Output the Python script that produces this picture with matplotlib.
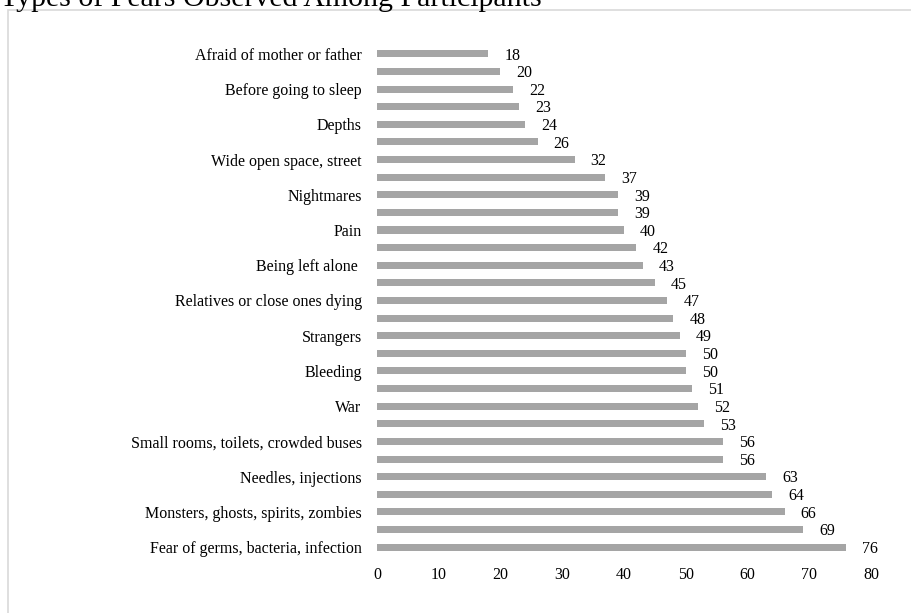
import matplotlib.pyplot as plt
from matplotlib.patches import Rectangle

# fears, top to bottom; only every other category is labelled on the axis
labels = [
    "Afraid of mother or father", "",
    "Before going to sleep", "",
    "Depths", "",
    "Wide open space, street", "",
    "Nightmares", "",
    "Pain", "",
    "Being left alone ", "",
    "Relatives or close ones dying", "",
    "Strangers", "",
    "Bleeding", "",
    "War", "",
    "Small rooms, toilets, crowded buses", "",
    "Needles, injections", "",
    "Monsters, ghosts, spirits, zombies", "",
    "Fear of germs, bacteria, infection",
]
counts = [18, 20, 22, 23, 24, 26, 32, 37, 39, 39, 40, 42, 43, 45, 47,
          48, 49, 50, 50, 51, 52, 53, 56, 56, 63, 64, 66, 69, 76]
xticks = [0, 10, 20, 30, 40, 50, 60, 70, 80]

plt.rcParams['font.family'] = ['Liberation Serif', 'DejaVu Serif']

fig = plt.figure(figsize=(9.11, 6.13), dpi=100)

# outer frame, only top and left edges fall inside the image
fig.patches.append(Rectangle((8 / 911, -0.1), 1.0, 1.1 - 10 / 613,
                             transform=fig.transFigure, fill=False,
                             edgecolor='#d9d9d9', linewidth=1.2))

fig.text(0.0, 1 - 6 / 613, "Types of Fears Observed Among Participants",
         fontsize=21.5, ha='left', va='baseline', color='black')

ax = fig.add_axes([0.4138, 0.093, 0.5423, 0.8336])
pos = list(range(len(counts)))
ax.barh(pos, counts, height=0.4, color='#a5a5a5')

for y, v in zip(pos, counts):
    ax.text(v + 2.6, y + 0.1, str(v), ha='left', va='center',
            fontsize=11.5, color='black')

ax.set_ylim(len(counts) - 0.5, -0.5)
ax.set_xlim(0, 80)
ax.set_yticks(pos)
ax.set_yticklabels(labels, fontsize=11.5)
ax.set_xticks(xticks)
ax.set_xticklabels([str(t) for t in xticks], fontsize=11.5)
ax.tick_params(axis='y', length=0, pad=11)
ax.tick_params(axis='x', length=0, pad=8)
for s in ax.spines.values():
    s.set_visible(False)

fig.savefig('out.png', dpi=100)
